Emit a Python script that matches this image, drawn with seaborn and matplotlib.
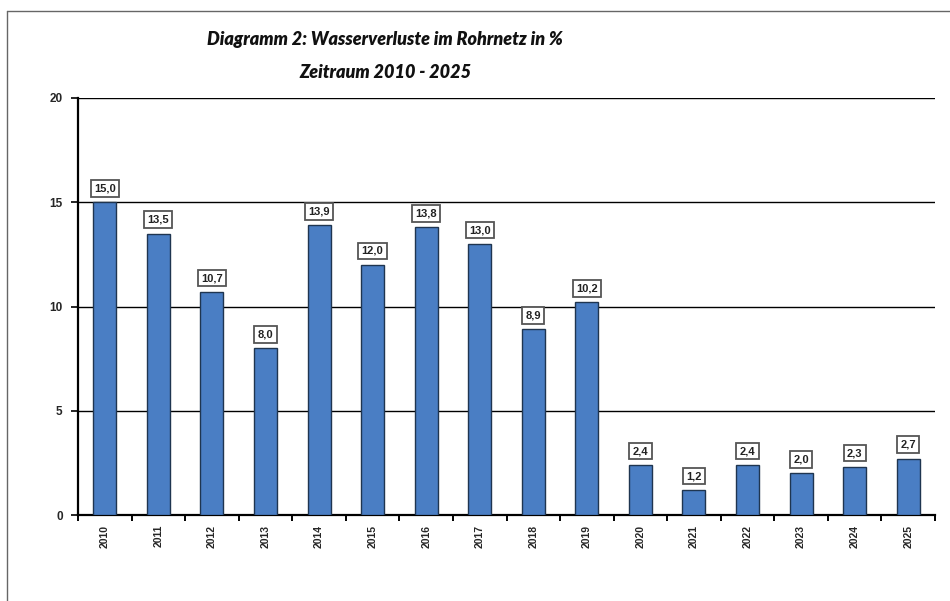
import matplotlib
matplotlib.use("Agg")
import matplotlib.pyplot as plt
import seaborn as sns
import pandas as pd
from matplotlib.lines import Line2D
from matplotlib.ticker import FixedLocator

years = ["2010", "2011", "2012", "2013", "2014", "2015", "2016", "2017",
         "2018", "2019", "2020", "2021", "2022", "2023", "2024", "2025"]
losses = [15.0, 13.5, 10.7, 8.0, 13.9, 12.0, 13.8, 13.0,
          8.9, 10.2, 2.4, 1.2, 2.4, 2.0, 2.3, 2.7]
title_lines = ["Diagramm 2: Wasserverluste im Rohrnetz in %", "Zeitraum 2010 - 2025"]

df = pd.DataFrame({"Jahr": years, "Verlust": losses})

sns.set_theme(style="white")
plt.rcParams['font.family'] = ['Liberation Sans', 'DejaVu Sans']

fig = plt.figure(figsize=(9.5, 6.01), dpi=100)
ax = fig.add_axes([78/950, 1 - 515/601, (935-78)/950, (515-98)/601])

sns.barplot(data=df, x="Jahr", y="Verlust", ax=ax, color="#4a7ec4",
            saturation=1, width=0.43, edgecolor="#1f3550", linewidth=1.0, zorder=3)

ax.set_ylim(0, 20)
ax.set_xlim(-0.5, len(years) - 0.5)
ax.set_yticks([0, 5, 10, 15, 20])
ax.yaxis.grid(True, color="black", linewidth=1.0, zorder=0)
ax.set_axisbelow(True)
for s in ["top", "right"]:
    ax.spines[s].set_visible(False)
for s in ["left", "bottom"]:
    ax.spines[s].set_color("black")
    ax.spines[s].set_linewidth(1.6)

ax.set_xlabel("")
ax.set_ylabel("")
ax.tick_params(axis="y", which="major", direction="out", length=5, width=1.2,
               color="black", labelsize=8.5, pad=6, left=True)
for t in ax.get_yticklabels():
    t.set_fontweight("bold")
ax.tick_params(axis="x", which="major", length=0, labelsize=7.5, pad=7, rotation=90)
for t in ax.get_xticklabels():
    t.set_fontweight("bold")
ax.xaxis.set_minor_locator(FixedLocator([i + 0.5 for i in range(-1, len(years))]))
ax.tick_params(axis="x", which="minor", direction="out", length=4, width=1.4,
               color="black", bottom=True)

for i, v in enumerate(losses):
    ax.annotate(f"{v:.1f}".replace(".", ","), xy=(i, v), xytext=(0, 10),
                textcoords="offset points", ha="center", va="center",
                fontsize=8, fontweight="bold", color="#222222",
                bbox=dict(boxstyle="square,pad=0.3", fc="white", ec="#555555", lw=1.3),
                zorder=5)

title_font = ["Lato", "DejaVu Sans"]
fig.text(385/950, 1 - 40/601, title_lines[0], ha="center", va="center",
         fontsize=13, fontstyle="italic", fontweight="heavy", family=title_font,
         color="#111111")
fig.text(385/950, 1 - 72/601, title_lines[1], ha="center", va="center",
         fontsize=13, fontstyle="italic", fontweight="heavy", family=title_font,
         color="#111111")

fig.add_artist(Line2D([7/950, 1], [1 - 11/601, 1 - 11/601], transform=fig.transFigure,
                      color="#666666", linewidth=1.0))
fig.add_artist(Line2D([7/950, 7/950], [0, 1 - 11/601], transform=fig.transFigure,
                      color="#666666", linewidth=1.0))

fig.savefig("out.png", dpi=100, facecolor="white")
